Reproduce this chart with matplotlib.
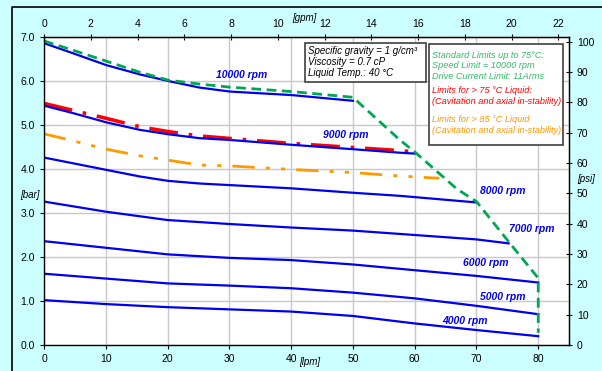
import matplotlib.pyplot as plt
from matplotlib.patches import Rectangle
from matplotlib.lines import Line2D

plt.rcParams['font.family'] = ['Liberation Sans', 'DejaVu Sans']

# pump curves: flow [lpm] vs head [bar]
flow_10000 = [0, 4.7, 10.1, 15.5, 20.1, 25.2, 30.1, 40.1, 50]
head_10000 = [6.86, 6.63, 6.36, 6.15, 6.0, 5.85, 5.76, 5.68, 5.55]

flow_9000 = [0, 4.7, 10.1, 15.5, 20.1, 25.2, 30.1, 40.1, 50, 57.6, 60]
head_9000 = [5.44, 5.27, 5.06, 4.89, 4.79, 4.70, 4.66, 4.55, 4.45, 4.37, 4.35]

flow_8000 = [0, 10.1, 15.5, 20.1, 25.2, 40.1, 50, 57.6, 70]
head_8000 = [4.26, 3.98, 3.83, 3.73, 3.67, 3.56, 3.46, 3.39, 3.24]

flow_7000 = [0, 10, 20, 30, 40, 50, 60, 70, 75.2]
head_7000 = [3.26, 3.03, 2.84, 2.75, 2.67, 2.60, 2.50, 2.40, 2.31]

flow_6000 = [0, 10, 20, 30, 40, 50, 60, 70, 80]
head_6000 = [2.36, 2.21, 2.06, 1.98, 1.93, 1.83, 1.70, 1.57, 1.42]

flow_5000 = [0, 10, 20, 30, 40, 50, 60, 70, 80]
head_5000 = [1.62, 1.51, 1.40, 1.35, 1.29, 1.19, 1.06, 0.89, 0.70]

flow_4000 = [0, 10, 20, 30, 40, 50, 60, 70, 80]
head_4000 = [1.02, 0.93, 0.86, 0.81, 0.76, 0.66, 0.49, 0.34, 0.20]

# limit lines
flow_std = [0, 4.7, 10.1, 15.5, 20.1, 25.2, 30.1, 40.1, 50, 57.6, 60, 66.8, 70, 75.2, 80, 80]
head_std = [6.91, 6.70, 6.45, 6.20, 6.02, 5.93, 5.86, 5.76, 5.63, 4.66, 4.39, 3.55, 3.26, 2.35, 1.52, 0.28]

flow_75 = [0, 10.1, 15.5, 20.1, 25.2, 40.1, 56.3, 60]
head_75 = [5.49, 5.15, 4.96, 4.85, 4.75, 4.58, 4.43, 4.39]

flow_85 = [0, 4.7, 10.1, 15.5, 20.1, 25.2, 30.1, 40.1, 50, 57.6, 64]
head_85 = [4.80, 4.64, 4.45, 4.30, 4.20, 4.09, 4.07, 3.99, 3.92, 3.84, 3.79]

curves = [
    (flow_10000, head_10000, '10000 rpm', 32, 6.13),
    (flow_9000, head_9000, '9000 rpm', 48.8, 4.77),
    (flow_8000, head_8000, '8000 rpm', 74.3, 3.51),
    (flow_7000, head_7000, '7000 rpm', 78.9, 2.64),
    (flow_6000, head_6000, '6000 rpm', 71.5, 1.86),
    (flow_5000, head_5000, '5000 rpm', 74.2, 1.10),
    (flow_4000, head_4000, '4000 rpm', 68.2, 0.55),
]

LPM_PER_GPM = 3.78541
PSI_PER_BAR = 14.5038

W, H = 602, 371
fig = plt.figure(figsize=(W / 100, H / 100), dpi=100, facecolor='#CCFFFF')
# outer frame (only top and left edges are visible)
fig.lines.append(Line2D([11.5 / W, 11.5 / W, 1.0], [0, 1 - 7 / H, 1 - 7 / H],
                        transform=fig.transFigure, color='black', lw=1.2))

ax = fig.add_axes([44 / W, (H - 345) / H, (568.5 - 44) / W, (345 - 37) / H])
ax.set_facecolor('white')
ax.set_xlim(0, 84.9)
ax.set_ylim(0, 7)
ax.set_xticks(range(0, 81, 10))
ax.set_yticks(range(0, 8))
ax.set_yticklabels([f'{v:.1f}' for v in range(0, 8)])
ax.grid(True, color='#C8C8C8', lw=1)
ax.set_axisbelow(True)
ax.tick_params(labelsize=7.5, length=3, colors='black', direction='out')
for s in ax.spines.values():
    s.set_color('black')
    s.set_linewidth(1)

blue = '#0000EE'
ax.plot(flow_85, head_85, color='#FF9900', lw=2, dashes=[8, 4, 1.5, 4, 1.5, 4])
ax.plot(flow_75, head_75, color='#FF0000', lw=2.6, dashes=[8, 3, 1, 3])
for fx, hy, lab, lx, ly in curves:
    ax.plot(fx, hy, color=blue, lw=1.6)
    ax.text(lx, ly, lab, color=blue, fontsize=7.5, style='italic',
            weight='bold', ha='center', va='center')
ax.plot(flow_std, head_std, color='#00A651', lw=2, dashes=[3.5, 2])

top = ax.secondary_xaxis('top', functions=(lambda x: x / LPM_PER_GPM,
                                           lambda x: x * LPM_PER_GPM))
top.set_xticks(range(0, 23, 2))
top.tick_params(labelsize=7.5, length=5, direction='inout')

right = ax.secondary_yaxis('right', functions=(lambda y: y * PSI_PER_BAR,
                                               lambda y: y / PSI_PER_BAR))
right.set_yticks(range(0, 101, 10))
right.tick_params(labelsize=7.5, length=5, direction='inout')

fig.text(304 / W, 1 - 18 / H, '[gpm]', fontsize=7, style='italic', ha='center', va='center')
fig.text(310 / W, 1 - 362 / H, '[lpm]', fontsize=7, style='italic', ha='center', va='center')
fig.text(30 / W, 1 - 195 / H, '[bar]', fontsize=7, style='italic', ha='center', va='center')
fig.text(586 / W, 1 - 179 / H, '[psi]', fontsize=7, style='italic', ha='center', va='center')

# info boxes
fig.patches.append(Rectangle((305 / W, 1 - 82 / H), 121 / W, 39 / H,
                             transform=fig.transFigure, facecolor='white',
                             edgecolor='#404040', lw=1.2))
fig.text(308 / W, 1 - 62 / H,
         'Specific gravity = 1 g/cm³\nViscosity = 0.7 cP\nLiquid Temp.: 40 °C',
         fontsize=7, style='italic', ha='left', va='center', linespacing=1.15)

fig.patches.append(Rectangle((429 / W, 1 - 145 / H), 134 / W, 101 / H,
                             transform=fig.transFigure, facecolor='white',
                             edgecolor='#404040', lw=1.2))
box_fs = 6.6
fig.text(432 / W, 1 - 66 / H,
         'Standard Limits up to 75°C:\nSpeed Limit = 10000 rpm\nDrive Current Limit: 11Arms',
         fontsize=box_fs, style='italic', color='#33BB66', ha='left', va='center',
         linespacing=1.2)
fig.text(432 / W, 1 - 96 / H,
         'Limits for > 75 °C Liquid:\n(Cavitation and axial in-stability)',
         fontsize=box_fs, style='italic', color='#FF0000', ha='left', va='center',
         linespacing=1.2)
fig.text(432 / W, 1 - 125 / H,
         'Limits for > 85 °C Liquid\n(Cavitation and axial in-stability)',
         fontsize=box_fs, style='italic', color='#FF9900', ha='left', va='center',
         linespacing=1.2)

fig.savefig('out.png', dpi=100, facecolor=fig.get_facecolor())
